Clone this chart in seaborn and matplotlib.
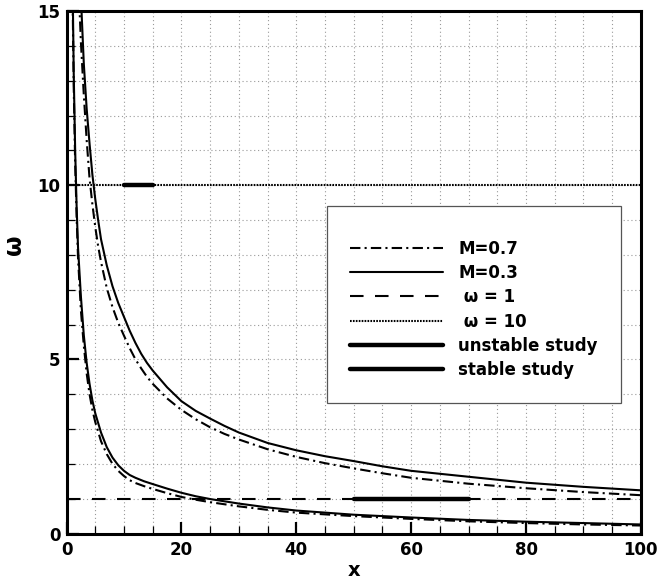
import matplotlib
matplotlib.use("Agg")
import matplotlib.pyplot as plt
from matplotlib.lines import Line2D
from matplotlib.ticker import MultipleLocator
import seaborn as sns
import pandas as pd

sns.set_style("ticks")
plt.rcParams['font.family'] = ['DejaVu Sans']
plt.rcParams.update({
    "text.color": "black",
    "axes.labelcolor": "black",
    "axes.edgecolor": "black",
    "xtick.color": "black",
    "ytick.color": "black",
})

# Upper branch, M=0.3 (solid)
x_up_m03 = [2.5, 3, 3.5, 4, 4.5, 5, 5.5, 6, 7, 8, 9, 10, 11, 12, 13, 14, 15, 17.5, 20, 22.5, 25, 27.5,
            30, 35, 40, 45, 50, 55, 60, 70, 80, 90, 100]
w_up_m03 = [15.4, 13.5, 12.2, 11.2, 10.3, 9.6, 9.0, 8.45, 7.7, 7.1, 6.62, 6.22, 5.82, 5.47, 5.16, 4.9, 4.68,
            4.2, 3.8, 3.52, 3.3, 3.09, 2.9, 2.6, 2.39, 2.22, 2.08, 1.93, 1.80, 1.63, 1.46, 1.34, 1.24]

# Upper branch, M=0.7 (dash-dot)
x_up_m07 = [2.2, 2.5, 3, 3.5, 4, 4.5, 5, 5.5, 6, 7, 8, 9, 10, 11, 12, 13, 14, 15, 17.5, 20, 22.5, 25, 27.5,
            30, 35, 40, 45, 50, 55, 60, 70, 80, 90, 100]
w_up_m07 = [15.3, 14.1, 12.6, 11.3, 10.2, 9.45, 8.8, 8.25, 7.8, 7.05, 6.5, 6.05, 5.68, 5.32, 5.0, 4.74, 4.5,
            4.3, 3.88, 3.55, 3.28, 3.05, 2.86, 2.7, 2.42, 2.2, 2.02, 1.87, 1.73, 1.6, 1.43, 1.3, 1.19, 1.1]

# Lower branch, M=0.3 (solid)
x_lo_m03 = [1.0, 1.25, 1.5, 1.75, 2, 2.5, 3, 3.5, 4, 4.5, 5, 6, 7, 8, 9, 10, 11, 12, 13.5, 15, 17.5, 20,
            22.5, 25, 30, 35, 40, 50, 60, 70, 80, 90, 100]
w_lo_m03 = [16.5, 13.2, 11.0, 9.4, 8.2, 6.8, 5.7, 4.9, 4.3, 3.82, 3.45, 2.9, 2.48, 2.18, 1.96, 1.8, 1.68,
            1.6, 1.5, 1.42, 1.29, 1.17, 1.07, 0.99, 0.86, 0.75, 0.66, 0.54, 0.46, 0.39, 0.34, 0.30, 0.26]

# Lower branch, M=0.7 (dash-dot)
x_lo_m07 = [1.0, 1.25, 1.5, 1.75, 2, 2.5, 3, 3.5, 4, 4.5, 5, 6, 7, 8, 9, 10, 11, 12, 13.5, 15, 17.5, 20,
            22.5, 25, 30, 35, 40, 50, 60, 70, 80, 90, 100]
w_lo_m07 = [16.0, 12.8, 10.6, 9.1, 7.9, 6.4, 5.4, 4.6, 4.0, 3.55, 3.2, 2.65, 2.28, 2.0, 1.8, 1.65, 1.53,
            1.45, 1.36, 1.28, 1.16, 1.05, 0.97, 0.9, 0.78, 0.68, 0.6, 0.5, 0.42, 0.35, 0.3, 0.26, 0.23]

# Reference frequency levels
x_range = [0, 100]
omega_low = 1
omega_high = 10

# Study intervals
unstable_x = [10, 15]
unstable_w = 10
stable_x = [50, 70]
stable_w = 1

legend_labels = ["M=0.7", "M=0.3", " \u03c9 = 1", " \u03c9 = 10", "unstable study", "stable study"]

fig = plt.figure(figsize=(6.59, 5.85), dpi=100)
ax = fig.add_axes([0.101, 0.088, 0.8715, 0.893])

dashdot = (0, (5, 2, 1, 2))
dashed = (0, (6.5, 5.5))
dotted = (0, (0.8, 0.6))
lw = 1.5
thick = 3.2

def draw(x, y, ls, width=lw):
    sns.lineplot(data=pd.DataFrame({"x": x, "w": y}), x="x", y="w", ax=ax,
                 color="black", linestyle=ls, linewidth=width, sort=False,
                 estimator=None, legend=False)

draw(x_up_m07, w_up_m07, dashdot)
draw(x_lo_m07, w_lo_m07, dashdot)
draw(x_up_m03, w_up_m03, "-")
draw(x_lo_m03, w_lo_m03, "-")
draw(x_range, [omega_low] * 2, dashed)
draw(x_range, [omega_high] * 2, dotted)
draw(unstable_x, [unstable_w] * 2, "-", width=thick)
draw(stable_x, [stable_w] * 2, "-", width=thick)

ax.set_xlim(0, 100)
ax.set_ylim(0, 15)
ax.xaxis.set_major_locator(MultipleLocator(20))
ax.xaxis.set_minor_locator(MultipleLocator(5))
ax.yaxis.set_major_locator(MultipleLocator(5))
ax.yaxis.set_minor_locator(MultipleLocator(1))
ax.grid(which="both", color="#999999", linestyle=(0, (1, 2.5)), linewidth=0.8)
ax.set_axisbelow(True)
ax.tick_params(which="major", direction="in", length=8.5, width=1.6, labelsize=12,
               top=False, right=False)
ax.tick_params(axis="x", which="major", pad=5.5)
ax.tick_params(axis="y", which="major", pad=4.5)
ax.tick_params(which="minor", direction="in", length=5.5, width=0.9, top=False, right=False)
for lab in ax.get_xticklabels() + ax.get_yticklabels():
    lab.set_fontweight("bold")
for sp in ax.spines.values():
    sp.set_linewidth(2.2)
    sp.set_visible(True)

ax.set_xlabel("x", fontsize=14, fontweight="bold")
ax.set_ylabel("\u03c9", fontsize=17, fontweight="bold")
ax.xaxis.set_label_coords(0.5, -0.053)
ax.yaxis.set_label_coords(-0.07, 0.552)

handles = [
    Line2D([], [], color="black", linestyle=dashdot, linewidth=lw),
    Line2D([], [], color="black", linestyle="-", linewidth=lw),
    Line2D([], [], color="black", linestyle=dashed, linewidth=lw),
    Line2D([], [], color="black", linestyle=dotted, linewidth=lw),
    Line2D([], [], color="black", linestyle="-", linewidth=thick),
    Line2D([], [], color="black", linestyle="-", linewidth=thick),
]
leg = ax.legend(handles, legend_labels, loc="upper left", bbox_to_anchor=(0.453, 0.627),
                borderaxespad=0, fancybox=False, framealpha=1, edgecolor="#555555",
                prop={"weight": "bold", "size": 12}, handlelength=5.6,
                handletextpad=0.9, labelspacing=0.38, borderpad=1.4,
                title=" ", title_fontsize=3)
leg.get_frame().set_linewidth(0.9)

fig.savefig("out.png", dpi=100)
